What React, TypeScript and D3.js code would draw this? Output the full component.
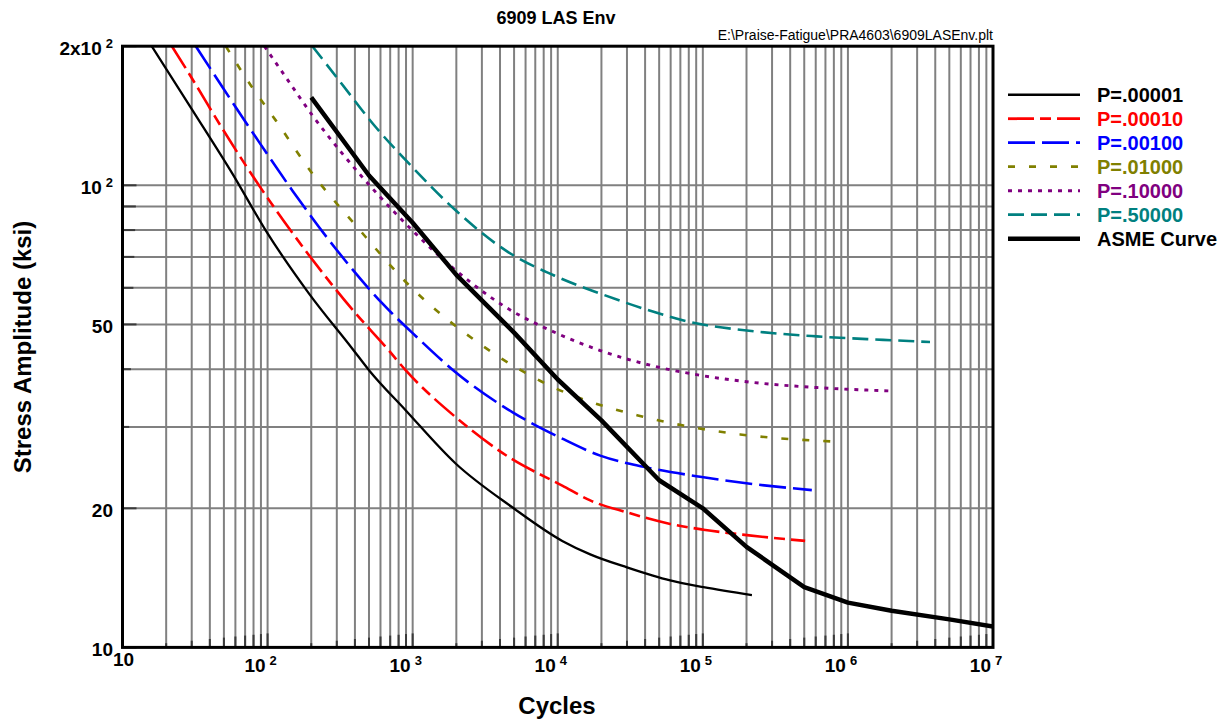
import React from "react";
import * as d3 from "d3";

// ---------- data ----------
const cycleDomain = [10, 1e7];
const stressDomain = [10, 200];

const xDecadeTicks = [10, 100, 1000, 10000, 100000, 1000000, 10000000];
const xDecadeSup = ["", "2", "3", "4", "5", "6", "7"];

const yLabelValues = [10, 20, 50, 100, 200];
const yLabelBase = ["10", "20", "50", "10", "2x10"];
const yLabelSup = ["", "", "", "2", "2"];

const p00001N = [15.9, 30.4, 57.2, 97, 193, 384, 500, 894, 1977, 4860, 10740, 16740, 29970, 59560, 101000, 218000];
const p00001S = [200, 145.3, 106, 79.9, 58.3, 44.3, 39.8, 32.6, 25.0, 20.1, 17.0, 15.9, 14.9, 13.96, 13.5, 12.98];

const p00010N = [21.9, 31.2, 48.8, 92.1, 193, 405, 669, 894, 1977, 4611, 10740, 16740, 29970, 59560, 101000, 201000, 507000];
const p00010S = [200, 167.3, 132.6, 97.5, 70.6, 52.8, 44.3, 39.8, 31.5, 25.8, 22.4, 20.8, 19.6, 18.5, 17.98, 17.5, 17.0];

const p00100N = [32, 48.8, 82.8, 148, 295, 618, 1048, 1977, 4860, 10740, 19620, 39000, 95870, 212000, 564000];
const p00100S = [200, 163.2, 127.2, 97.5, 72.9, 55.5, 47.2, 39.4, 32.3, 28.3, 26.0, 24.6, 23.4, 22.6, 21.9];

const p01000N = [51.5, 76.5, 113.8, 203.6, 405, 994, 2901, 5120, 9238, 16740, 35130, 73540, 181000, 774000];
const p01000S = [200, 164.7, 138.2, 106, 81.9, 59.8, 45.4, 40.4, 36.6, 34.0, 31.8, 30.2, 28.9, 27.9];

const p10000N = [95, 133.3, 203.6, 327.7, 555.6, 1048, 1977, 4369, 9763, 19620, 43360, 95870, 212000, 610000, 1900000];
const p10000S = [200, 171.5, 141.7, 117.1, 96.7, 78.6, 65.5, 54.5, 47.9, 43.9, 40.8, 38.8, 37.5, 36.5, 35.9];

const p50000N = [203.6, 311, 555.6, 994, 1977, 4369, 9763, 19620, 41150, 81800, 201000, 610000, 1750000, 3680000];
const p50000S = [200, 168.7, 133.7, 109.5, 88.3, 72.3, 63.5, 58.3, 53.8, 50.6, 48.5, 47.1, 46.3, 45.8];

const asmeN = [200, 500, 1000, 2000, 5000, 10000, 20000, 50000, 100000, 200000, 500000, 1000000, 2000000, 5000000, 10000000];
const asmeS = [155, 105, 83, 64, 48, 38, 31, 23, 20, 16.5, 13.5, 12.5, 12.0, 11.5, 11.1];

const seriesLabels = ["P=.00001", "P=.00010", "P=.00100", "P=.01000", "P=.10000", "P=.50000", "ASME Curve"];
const seriesN = [p00001N, p00010N, p00100N, p01000N, p10000N, p50000N, asmeN];
const seriesS = [p00001S, p00010S, p00100S, p01000S, p10000S, p50000S, asmeS];

// ---------- styles ----------
const seriesColor = ["#000000", "#ff0000", "#0000ff", "#808000", "#800080", "#008080", "#000000"];
const seriesDash = ["none", "26,6,11,6", "27,7", "7,14", "4,6", "16,7", "none"];
const seriesWidth = [2.3, 2.6, 2.6, 2.6, 2.9, 2.6, 4.5];
const legendWidth = [2.5, 2.8, 2.8, 2.8, 3, 2.8, 4.5];

const FONT = "'Liberation Sans', Arial, Helvetica, sans-serif";

export default function App() {
  const W = 1220;
  const H = 720;
  const left = 122.5;
  const right = 993;
  const top = 46.2;
  const bottom = 647.4;

  const x = d3.scaleLog().domain(cycleDomain).range([left, right]);
  const y = d3.scaleLog().domain(stressDomain).range([bottom, top]);

  const xGrid = x.ticks();
  const yGrid = y.ticks();

  const mant = (v: number) => v / Math.pow(10, Math.floor(Math.log10(v) + 1e-9));
  const tickLen = (v: number) => {
    const m = mant(v);
    return m < 1.01 ? 14 : 14 * Math.log10(m);
  };

  const line = (curve: any) =>
    d3
      .line<[number, number]>()
      .x((d) => x(d[0]))
      .y((d) => y(d[1]))
      .curve(curve);

  return (
    <svg
      width={W}
      height={H}
      style={{ position: "absolute", left: 0, top: 0, background: "#fff" }}
      fontFamily={FONT}
    >
      <defs>
        <clipPath id="plotClip">
          <rect x={left} y={top} width={right - left} height={bottom - top} />
        </clipPath>
      </defs>
      <rect x={0} y={0} width={W} height={H} fill="#fff" />

      {/* grid */}
      <g stroke="#808080" strokeWidth={2}>
        {xGrid
          .filter((v) => v > cycleDomain[0] * 1.01 && v < cycleDomain[1] * 0.99)
          .map((v, i) => (
            <line key={"xg" + i} x1={x(v)} x2={x(v)} y1={top} y2={bottom} />
          ))}
        {yGrid
          .filter((v) => v > stressDomain[0] * 1.01 && v < stressDomain[1] * 0.99)
          .map((v, i) => (
            <line key={"yg" + i} x1={left} x2={right} y1={y(v)} y2={y(v)} />
          ))}
      </g>

      {/* ticks */}
      <g stroke="#3a3a3a" strokeWidth={2}>
        {xGrid.map((v, i) => (
          <line key={"xt" + i} x1={x(v)} x2={x(v)} y1={bottom} y2={bottom - tickLen(v)} />
        ))}
        {yGrid.map((v, i) => {
          const labeled = yLabelValues.some((lv) => Math.abs(lv - v) < 1e-6);
          const len = labeled ? 14 : tickLen(v);
          return <line key={"yt" + i} x1={left} x2={left + len} y1={y(v)} y2={y(v)} />;
        })}
      </g>

      {/* curves */}
      <g clipPath="url(#plotClip)" fill="none">
        {seriesN.map((ns, si) => {
          const pts: [number, number][] = ns.map((n, k) => [n, seriesS[si][k]]);
          const gen = line(si === 6 ? d3.curveLinear : d3.curveMonotoneX);
          return (
            <path
              key={"s" + si}
              d={gen(pts) || ""}
              stroke={seriesColor[si]}
              strokeWidth={seriesWidth[si]}
              strokeDasharray={seriesDash[si]}
              strokeLinejoin="round"
            />
          );
        })}
      </g>

      {/* frame */}
      <rect
        x={left}
        y={top}
        width={right - left}
        height={bottom - top}
        fill="none"
        stroke="#000"
        strokeWidth={3}
      />

      {/* x tick labels */}
      <g fontWeight="bold" fill="#000">
        {xDecadeTicks.map((v, i) =>
          xDecadeSup[i] === "" ? (
            <text key={"xl" + i} x={x(v) + 1} y={666} fontSize={19} textAnchor="middle">
              10
            </text>
          ) : (
            <text key={"xl" + i} x={x(v) - 2} y={672} fontSize={19} textAnchor="end">
              10
              <tspan x={x(v) + 2} dy={-7} fontSize={13} textAnchor="start">
                {xDecadeSup[i]}
              </tspan>
            </text>
          )
        )}
      </g>

      {/* y tick labels */}
      <g fontWeight="bold" fill="#000">
        {yLabelValues.map((v, i) => (
          <text key={"yl" + i} x={113} y={y(v) + 8.5} fontSize={19} textAnchor="end">
            {yLabelBase[i]}
            {yLabelSup[i] !== "" && (
              <tspan dx={4} dy={-7} fontSize={13}>
                {yLabelSup[i]}
              </tspan>
            )}
          </text>
        ))}
      </g>

      {/* titles */}
      <text x={556} y={24} fontSize={18} fontWeight="bold" textAnchor="middle">
        6909 LAS Env
      </text>
      <text x={993} y={40} fontSize={14} textAnchor="end">
        E:\Praise-Fatigue\PRA4603\6909LASEnv.plt
      </text>
      <text x={557} y={714} fontSize={24} fontWeight="bold" textAnchor="middle">
        Cycles
      </text>
      <text
        transform="translate(31,347) rotate(-90)"
        fontSize={24}
        fontWeight="bold"
        textAnchor="middle"
      >
        Stress Amplitude (ksi)
      </text>

      {/* legend */}
      <g>
        {seriesLabels.map((lab, i) => {
          const by = 101.7 + i * 24;
          return (
            <g key={"lg" + i}>
              <line
                x1={1008}
                x2={1080}
                y1={by - 7}
                y2={by - 7}
                stroke={seriesColor[i]}
                strokeWidth={legendWidth[i]}
                strokeDasharray={seriesDash[i]}
              />
              <text x={1097} y={by} fontSize={20} fontWeight="bold" fill={seriesColor[i]}>
                {lab}
              </text>
            </g>
          );
        })}
      </g>
    </svg>
  );
}
